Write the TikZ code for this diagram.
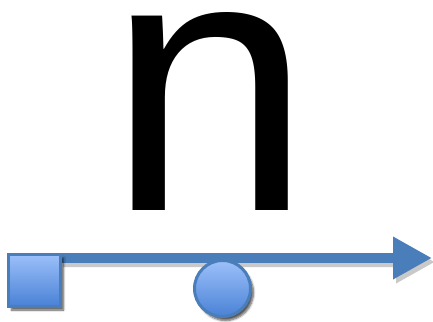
\documentclass[tikz,border=0pt]{standalone}
\usepackage{fontspec}
\setmainfont{Liberation Sans}
\usetikzlibrary{arrows.meta,shadows.blur}
\definecolor{bord}{HTML}{4A7EBB}
\definecolor{ftop}{HTML}{9CC0FA}
\definecolor{fbot}{HTML}{4A82D6}
\definecolor{linec}{HTML}{4A7EBB}
\tikzset{
  shp/.style={draw=bord, line width=3pt, top color=ftop, bottom color=fbot,
    blur shadow={shadow xshift=3pt, shadow yshift=-4pt, shadow blur steps=6, shadow opacity=65}},
  conn/.style={draw=linec, line width=10pt,
    -{Triangle[length=39pt,width=40pt]}}
}
\begin{document}
\begin{tikzpicture}[x=1pt,y=-1pt]
\useasboundingbox (0,0) rectangle (433,321);
\node[inner sep=0, anchor=base, font=\fontsize{368}{380}\selectfont] (n) at (209.5,210) {n};
\coordinate (tip) at (432,258);
\coordinate (st) at (60,258);
% line shadow
\begin{scope}[transparency group, opacity=0.3]
\draw[black!70, line width=10pt, -{Triangle[length=39pt,width=40pt]}] ([shift={(3,4)}]st) -- ([shift={(3,4)}]tip);
\end{scope}
\draw[conn] (st) -- (tip);
\node[shp, minimum width=52pt, minimum height=52pt, inner sep=0] (sq) at (34.5,280) {};
\node[shp, circle, minimum size=56pt, inner sep=0] (c) at (222.5,288.5) {};
\end{tikzpicture}
\end{document}
